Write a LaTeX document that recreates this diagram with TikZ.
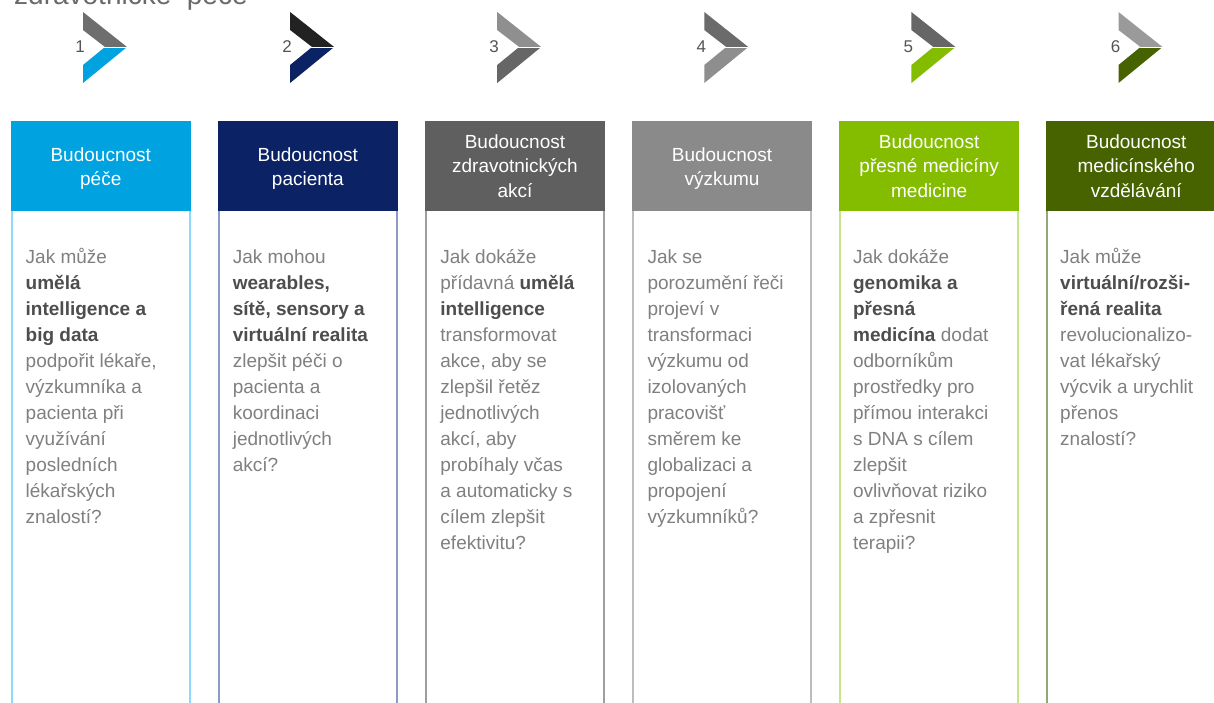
\documentclass[tikz,border=0pt]{standalone}
\usepackage{fontspec}
\setmainfont{Liberation Sans}
\definecolor{hA}{HTML}{00A3E0}\definecolor{bA}{HTML}{8ED8F8}
\definecolor{hB}{HTML}{0B2265}\definecolor{bB}{HTML}{8C9BC4}
\definecolor{hC}{HTML}{5F5F5F}\definecolor{bC}{HTML}{9E9E9E}
\definecolor{hD}{HTML}{8A8A8A}\definecolor{bD}{HTML}{BDBDBD}
\definecolor{hE}{HTML}{84BD00}\definecolor{bE}{HTML}{C5E58A}
\definecolor{hF}{HTML}{466300}\definecolor{bF}{HTML}{93A878}
\definecolor{tA}{HTML}{6E6E6E}\definecolor{tB}{HTML}{222222}
\definecolor{tC}{HTML}{8F8F8F}\definecolor{tD}{HTML}{6B6B6B}
\definecolor{tE}{HTML}{666666}\definecolor{tF}{HTML}{9A9A9A}
\definecolor{cC}{HTML}{666666}\definecolor{cD}{HTML}{8E8E8E}
\definecolor{bodygray}{HTML}{808080}
\definecolor{boldgray}{HTML}{4D4D4D}
\definecolor{numgray}{HTML}{555555}
\definecolor{titlegray}{HTML}{6A6A6A}
\newcommand\emb[1]{\textcolor{boldgray}{\textbf{#1}}}
\newcommand\fst{\rule{0pt}{19pt}}
\tikzset{
  headtext/.style={text=white, align=center, inner sep=0pt, anchor=north,
    font=\fontsize{19}{24.5}\selectfont},
  bodytext/.style={text=bodygray, align=left, inner sep=0pt, anchor=north west,
    font=\fontsize{19}{26}\selectfont},
  numtext/.style={text=numgray, inner sep=0pt, font=\fontsize{17}{17}\selectfont},
  colframe/.style={line width=2pt},
}
\begin{document}
\begin{tikzpicture}[x=1pt,y=-1pt]
\useasboundingbox (0,0) rectangle (1214,702);
\clip (0,0) rectangle (1214,702);
\fill[white] (0,0) rectangle (1214,702);
% title (cut off at the top edge, as in the reference)
\node[anchor=base west, inner sep=0pt, text=titlegray, font=\fontsize{28}{28}\selectfont] (title) at (14,4.5) {zdravotnické\ \ péče};
% columns
\foreach \i/\hc/\bc in {0/hA/bA,1/hB/bB,2/hC/bC,3/hD/bD,4/hE/bE,5/hF/bF}{
  \pgfmathsetmacro\L{11.5+207.1*\i}
  \draw[\bc, colframe] (\L,122) rectangle (\L+178.5,730);
  \fill[\hc] (\L-1,121) rectangle (\L+179.5,211);
}
% chevrons
\foreach \i/\n/\tc/\cc in {0/1/tA/hA,1/2/tB/hB,2/3/tC/cC,3/4/tD/cD,4/5/tE/hE,5/6/tF/hF}{
  \pgfmathsetmacro\X{83+207.1*\i}
  \fill[\tc] (\X,12) -- (\X+44,47) -- (\X+22,47) -- (\X,30) -- cycle;
  \fill[\cc] (\X+22,47) -- (\X+44,47) -- (\X,83) -- (\X,65) -- cycle;
  \draw[white, line width=0.7pt] (\X+21,47) -- (\X+44,47);
  \node[numtext] (n\n) at (\X-3,47) {\n};
}
% headers
\node[headtext] (h1) at (100.75,142) {\fst Budoucnost\\péče};
\node[headtext] (h2) at (307.85,142) {\fst Budoucnost\\pacienta};
\node[headtext] (h3) at (514.95,129) {\fst Budoucnost\\zdravotnických\\akcí};
\node[headtext] (h4) at (722.05,142) {\fst Budoucnost\\výzkumu};
\node[headtext] (h5) at (929.15,129) {\fst Budoucnost\\přesné medicíny\\medicine};
\node[headtext] (h6) at (1136.25,129) {\fst Budoucnost\\medicínského\\vzdělávání};
% bodies
\node[bodytext] (b1) at (25.5,244) {\fst Jak může\\\emb{umělá}\\\emb{intelligence a}\\\emb{big data}\\podpořit lékaře,\\výzkumníka a\\pacienta při\\využívání\\posledních\\lékařských\\znalostí?};
\node[bodytext] (b2) at (232.6,244) {\fst Jak mohou\\\emb{wearables,}\\\emb{sítě, sensory a}\\\emb{virtuální realita}\\zlepšit péči o\\pacienta a\\koordinaci\\jednotlivých\\akcí?};
\node[bodytext] (b3) at (440.2,244) {\fst Jak dokáže\\přídavná \emb{umělá}\\\emb{intelligence}\\transformovat\\akce, aby se\\zlepšil řetěz\\jednotlivých\\akcí, aby\\probíhaly\ včas\\a automaticky s\\cílem zlepšit\\efektivitu?};
\node[bodytext] (b4) at (647.3,244) {\fst Jak se\\porozumění řeči\\projeví v\\transformaci\\výzkumu od\\izolovaných\\pracovišť\\směrem ke\\globalizaci a\\propojení\\výzkumníků?};
\node[bodytext] (b5) at (852.9,244) {\fst Jak dokáže\\\emb{genomika a}\\\emb{přesná}\\\emb{medicína} dodat\\odborníkům\\prostředky pro\\přímou interakci\\s DNA s cílem\\zlepšit\\ovlivňovat riziko\\a zpřesnit\\terapii?};
\node[bodytext] (b6) at (1060,244) {\fst Jak může\\\emb{virtuální/rozši-}\\\emb{řená realita}\\revolucionalizo-\\vat lékařský\\výcvik a urychlit\\přenos\\znalostí?};
\end{tikzpicture}
\end{document}
